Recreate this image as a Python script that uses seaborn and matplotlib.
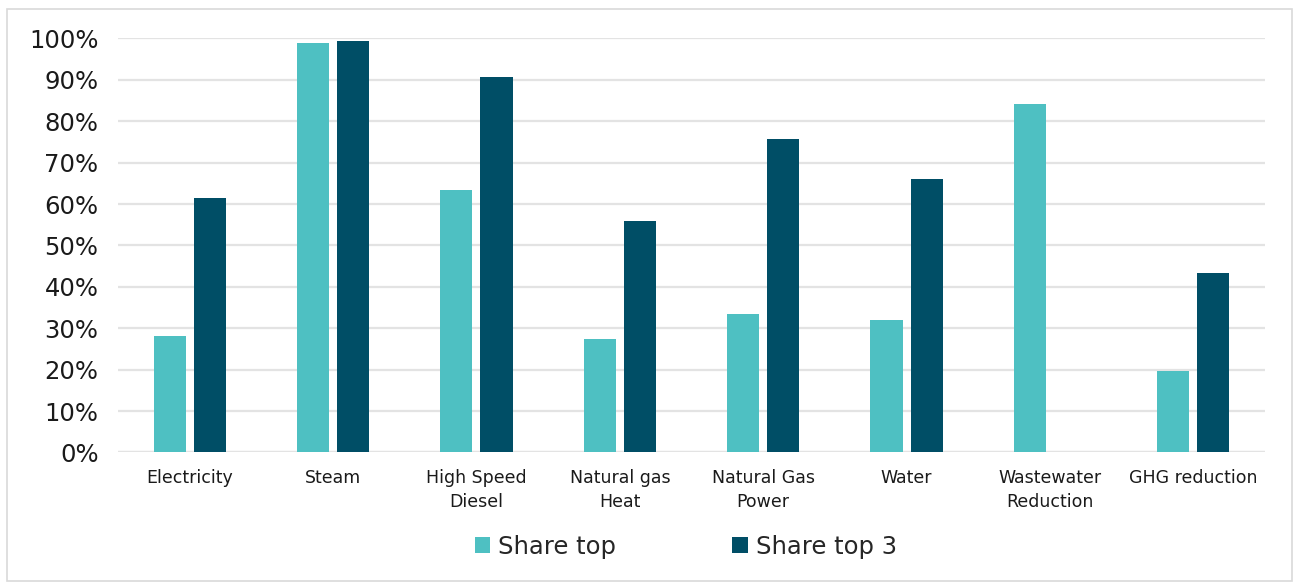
import matplotlib
matplotlib.use("Agg")
import matplotlib.pyplot as plt
from matplotlib.patches import Rectangle
from matplotlib.ticker import PercentFormatter, MultipleLocator
import numpy as np
import pandas as pd
import seaborn as sns

categories = ["Electricity", "Steam", "High Speed\nDiesel", "Natural gas\nHeat",
              "Natural Gas\nPower", "Water", "Wastewater\nReduction", "GHG reduction"]
share_top = [28.2, 98.8, 63.5, 27.3, 33.5, 32.0, 84.2, 19.7]
share_top3 = [61.5, 99.4, 90.6, 55.9, 75.6, 66.1, np.nan, 43.3]
series_names = ["Share top", "Share top 3"]
colors = ["#4EC0C2", "#004E66"]

df = pd.DataFrame({
    "category": categories * 2,
    "series": [series_names[0]] * len(categories) + [series_names[1]] * len(categories),
    "value": [v / 100 for v in share_top] + [v / 100 for v in share_top3],
})

sns.set_theme(style="white")
plt.rcParams["font.family"] = ["DejaVu Sans"]

fig = plt.figure(figsize=(12.93, 5.83), dpi=100)
ax = fig.add_axes([0.0913, 0.224, 0.8870, 0.710])

sns.barplot(data=df, x="category", y="value", hue="series", order=categories,
            hue_order=series_names, palette=colors, width=0.56, gap=0.2,
            saturation=1, linewidth=0, ax=ax, legend=True)

ax.set_ylim(0, 1.0)
ax.set_xlim(-0.5, len(categories) - 0.5)
ax.yaxis.set_major_locator(MultipleLocator(0.1))
ax.yaxis.set_major_formatter(PercentFormatter(1.0, decimals=0))
ax.yaxis.grid(True, color="#E3E3E3", linewidth=1.6)
ax.set_axisbelow(True)
for s in ax.spines.values():
    s.set_visible(False)
ax.axhline(0, color="#E3E3E3", linewidth=1.6, zorder=0.5)

ax.set_xlabel("")
ax.set_ylabel("")
ax.tick_params(axis="y", labelsize=17.5, colors="#1a1a1a", pad=14, length=0)
ax.tick_params(axis="x", labelsize=12.5, colors="#1a1a1a", pad=12, length=0)
for lbl in ax.get_xticklabels():
    lbl.set_linespacing(1.4)

handles, labels = ax.get_legend_handles_labels()
ax.legend(handles, labels, loc="center", bbox_to_anchor=(0.5303, 0.062),
          bbox_transform=fig.transFigure, ncol=2, frameon=False, fontsize=17.5,
          handlelength=0.65, handleheight=0.65, handletextpad=0.3,
          columnspacing=4.8)

fig.patches.append(Rectangle((0.0055, 0.003), 0.9935, 0.982, transform=fig.transFigure,
                             fill=False, edgecolor="#D9D9D9", linewidth=1.2))

fig.savefig("out.png", dpi=100, facecolor="white")
